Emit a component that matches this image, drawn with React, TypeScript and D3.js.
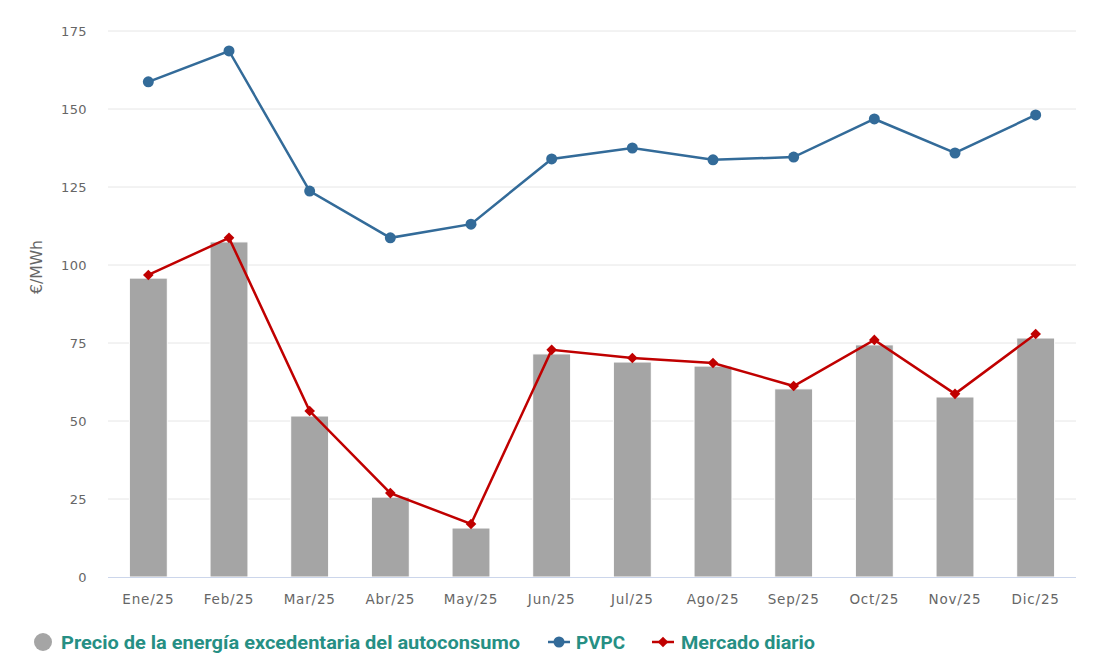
import React, { useEffect, useRef } from 'react';
import * as d3 from 'd3';

const months = ['Ene/25', 'Feb/25', 'Mar/25', 'Abr/25', 'May/25', 'Jun/25', 'Jul/25', 'Ago/25', 'Sep/25', 'Oct/25', 'Nov/25', 'Dic/25'];
const excedentaria = [95.8, 107.4, 51.6, 25.6, 15.7, 71.5, 68.9, 67.6, 60.3, 74.4, 57.7, 76.6];
const pvpc = [158.7, 168.6, 123.7, 108.7, 113.1, 134.0, 137.5, 133.7, 134.6, 146.8, 135.9, 148.1];
const mercado = [96.8, 108.7, 53.2, 26.9, 17.0, 72.8, 70.2, 68.6, 61.2, 76.0, 58.7, 77.9];
const yTicks = [0, 25, 50, 75, 100, 125, 150, 175];

const App = () => {
  const svgRef = useRef<SVGSVGElement>(null);

  useEffect(() => {
    const width = 1114;
    const height = 664;
    const margin = { top: 31, right: 38, bottom: 87, left: 108 };
    const svg = d3.select(svgRef.current);
    svg.selectAll('*').remove();
    svg.attr('width', width).attr('height', height);

    const innerW = width - margin.left - margin.right;
    const innerH = height - margin.top - margin.bottom;
    const chart = svg.append('g').attr('transform', `translate(${margin.left},${margin.top})`);

    const x = d3.scaleBand().domain(months).range([0, innerW]).paddingInner(0.53).paddingOuter(0.265);
    const xc = (d: string) => (x(d) as number) + x.bandwidth() / 2;
    const y = d3.scaleLinear().domain([0, 175]).range([innerH, 0]);

    const font = '"DejaVu Sans", sans-serif';

    // grid
    chart.append('g')
      .selectAll('line')
      .data(yTicks.filter(t => t > 0))
      .enter()
      .append('line')
      .attr('x1', 0)
      .attr('x2', innerW)
      .attr('y1', d => y(d))
      .attr('y2', d => y(d))
      .attr('stroke', '#e6e6e6')
      .attr('stroke-width', 1);

    // y labels
    chart.append('g')
      .selectAll('text')
      .data(yTicks)
      .enter()
      .append('text')
      .attr('x', -21)
      .attr('y', d => y(d) + 5)
      .attr('text-anchor', 'end')
      .style('font-family', font)
      .style('font-size', '13px')
      .style('letter-spacing', '0.4px')
      .style('fill', '#666666')
      .text(d => d);

    chart.append('text')
      .attr('transform', `translate(${-66},${267 - margin.top}) rotate(-90)`)
      .attr('text-anchor', 'middle')
      .attr('textLength', 54)
      .attr('lengthAdjust', 'spacingAndGlyphs')
      .style('font-family', font)
      .style('font-size', '15px')
      .style('fill', '#666666')
      .text('€/MWh');

    // bars
    chart.append('g')
      .selectAll('rect')
      .data(excedentaria)
      .enter()
      .append('rect')
      .attr('x', (_, i) => x(months[i]) as number)
      .attr('y', d => y(d))
      .attr('width', x.bandwidth())
      .attr('height', d => innerH - y(d))
      .attr('fill', '#a5a5a5')
      .attr('stroke', '#ffffff')
      .attr('stroke-width', 1);

    // x axis line
    chart.append('line')
      .attr('x1', 0)
      .attr('x2', innerW)
      .attr('y1', innerH + 0.5)
      .attr('y2', innerH + 0.5)
      .attr('stroke', '#ccd6eb');

    chart.append('g')
      .selectAll('text')
      .data(months)
      .enter()
      .append('text')
      .attr('x', d => xc(d))
      .attr('y', innerH + 27)
      .attr('text-anchor', 'middle')
      .style('font-family', font)
      .style('font-size', '13.5px')
      .style('letter-spacing', '0.8px')
      .style('fill', '#666666')
      .text(d => d);

    const line = d3.line<number>()
      .x((_, i) => xc(months[i]))
      .y(d => y(d));

    chart.append('path')
      .datum(pvpc)
      .attr('d', line)
      .attr('fill', 'none')
      .attr('stroke', '#336b99')
      .attr('stroke-width', 2.5);

    chart.append('g')
      .selectAll('circle')
      .data(pvpc)
      .enter()
      .append('circle')
      .attr('cx', (_, i) => xc(months[i]))
      .attr('cy', d => y(d))
      .attr('r', 5.5)
      .attr('fill', '#336b99');

    chart.append('path')
      .datum(mercado)
      .attr('d', line)
      .attr('fill', 'none')
      .attr('stroke', '#c00000')
      .attr('stroke-width', 2.5);

    const diamond = d3.symbol().type(d3.symbolDiamond2).size(72);
    chart.append('g')
      .selectAll('path')
      .data(mercado)
      .enter()
      .append('path')
      .attr('transform', (d, i) => `translate(${xc(months[i])},${y(d)})`)
      .attr('d', diamond)
      .attr('fill', '#c00000');

    // legend
    const legend = svg.append('g').attr('transform', 'translate(0,642)');
    const legendFont = 'Roboto, sans-serif';
    const teal = '#268f84';

    const legendText = (xPos: number, len: number, label: string) =>
      legend.append('text').attr('x', xPos).attr('y', 6.5)
        .attr('textLength', len)
        .attr('lengthAdjust', 'spacingAndGlyphs')
        .style('font-family', legendFont).style('font-size', '18.5px').style('font-weight', 'bold')
        .style('fill', teal).text(label);

    legend.append('circle').attr('cx', 43).attr('cy', 0).attr('r', 9).attr('fill', '#a5a5a5');
    legendText(61, 459, 'Precio de la energía excedentaria del autoconsumo');

    legend.append('line').attr('x1', 548).attr('x2', 570).attr('y1', 0).attr('y2', 0)
      .attr('stroke', '#336b99').attr('stroke-width', 2.5);
    legend.append('circle').attr('cx', 559).attr('cy', 0).attr('r', 5.5).attr('fill', '#336b99');
    legendText(576, 49, 'PVPC');

    legend.append('line').attr('x1', 652).attr('x2', 674).attr('y1', 0).attr('y2', 0)
      .attr('stroke', '#c00000').attr('stroke-width', 2.5);
    legend.append('path').attr('transform', 'translate(663,0)').attr('d', diamond).attr('fill', '#c00000');
    legendText(681, 134, 'Mercado diario');
  }, []);

  return (
    <div style={{ position: 'absolute', left: 0, top: 0 }}>
      <svg ref={svgRef}></svg>
    </div>
  );
};

export default App;
